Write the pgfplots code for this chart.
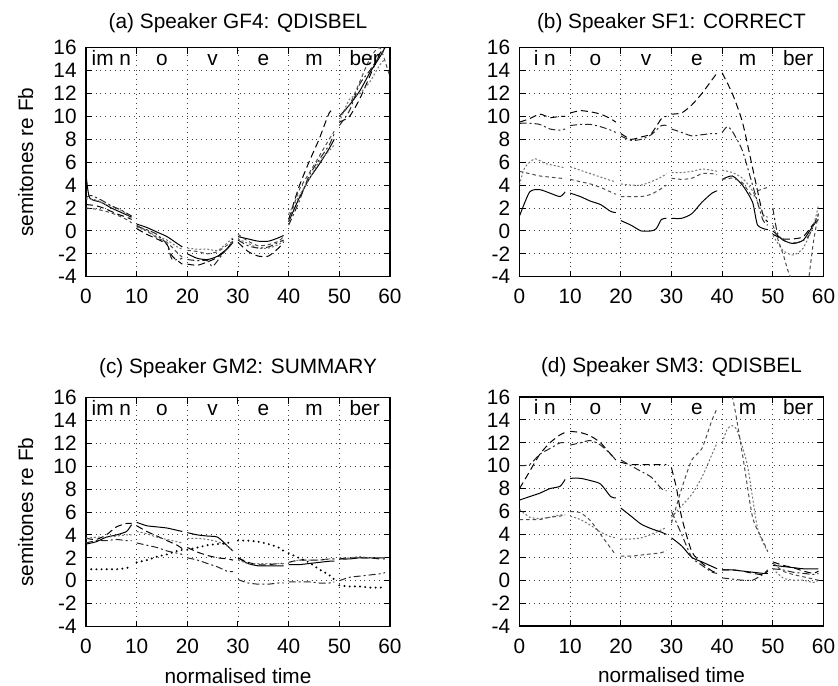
\documentclass[border=0pt]{standalone}
\usepackage{fontspec}
\setmainfont{Liberation Sans}
\usepackage{pgfplots}
\pgfplotsset{compat=1.18}
\newcommand{\fs}{\fontsize{10.4}{12}\selectfont}
\pgfplotsset{
 every axis title shift=0pt,
 panel/.style={
  scale only axis, width=152pt, height=114.5pt,
  xmin=0,xmax=60,ymin=-4,ymax=16,
  xtick={0,10,...,60}, ytick={-4,-2,...,16},
  grid=major, major grid style={dotted, black!75, line width=0.45pt},
  axis line style={line width=0.6pt},
  tick style={black, line width=0.5pt}, major tick length=3pt,
  tick align=inside,
  /pgf/number format/assume math mode=true,
  font=\fs,
  ticklabel style={font=\fs, inner sep=0pt},
  xticklabel style={anchor=base, yshift=-13.5pt},
  yticklabel style={anchor=east, xshift=-4.5pt},
  unbounded coords=jump,
  anchor=north west,
  title style={anchor=base, font=\fs},
  ylabel style={at={(axis description cs:-0.174,0.5)}, anchor=base, font=\fs},
  xlabel style={at={(axis description cs:0.5,-0.247)}, anchor=base, font=\fs},
 },
 sA/.style={black, line width=0.5pt, smooth, tension=0.4},
 sB/.style={black, line width=0.5pt, dash pattern=on 3.5pt off 2pt, smooth, tension=0.4},
 sC/.style={black!55, line width=0.5pt, dash pattern=on 1pt off 1pt, smooth, tension=0.4},
 sD/.style={black!85, line width=0.5pt, dash pattern=on 3.5pt off 1.5pt on 1pt off 1.5pt, smooth, tension=0.4},
 sE/.style={black!70, line width=0.5pt, dash pattern=on 1.8pt off 1.5pt, smooth, tension=0.4},
 sF/.style={black, line width=1.1pt, line cap=round, dash pattern=on 0pt off 2.6pt, smooth, tension=0.4},
}
\newcommand{\syl}[6]{%
 \node[anchor=base,font=\fs] at (axis cs:5,14.45) {#1};
 \node[anchor=base,font=\fs] at (axis cs:15,14.45) {#2};
 \node[anchor=base,font=\fs] at (axis cs:25,14.45) {#3};
 \node[anchor=base,font=\fs] at (axis cs:35,14.45) {#4};
 \node[anchor=base,font=\fs] at (axis cs:45,14.45) {#5};
 \node[anchor=base,font=\fs] at (axis cs:55,14.45) {#6};}
\begin{document}
\begin{tikzpicture}
\useasboundingbox (0,0) rectangle (419pt,-342.5pt);
% ---------------- (a)
\begin{axis}[panel, at={(43pt,-23.85pt)},
  title={(a) Speaker GF4: QDISBEL}, title style={at={(axis description cs:0.5,1.086)}},
  ylabel={semitones re Fb}]
\addplot[sA] coordinates {(0,5.0)(0.7,2.9)(3,2.5)(5,2.0)(7,1.6)(9,1.2)(9.5,nan)
(10,0.6)(12,0.3)(14,-0.1)(16,-0.5)(18,-1.1)(19,-1.4)(19.5,nan)
(20,-2.0)(22,-2.4)(24,-2.5)(26,-2.2)(28,-1.5)(29,-1.0)(29.5,nan)
(30,-0.5)(32,-0.7)(34,-0.9)(36,-0.9)(38,-0.6)(39,-0.4)(39.5,nan)
(40,0.8)(42,2.8)(44,4.5)(46,5.8)(48,7.2)(49,8.0)(49.5,nan)
(50,10.0)(52,11.0)(54,12.2)(56,13.8)(58,15.2)(59,16.0)};
\addplot[sB] coordinates {(0,2.3)(2,2.2)(4,1.9)(6,1.5)(8,1.2)(9,1.0)(9.5,nan)
(10,0.2)(12,-0.3)(14,-0.7)(16,-1.2)(17,-2.2)(19,-2.9)(19.5,nan)
(20,-2.9)(22,-3.0)(24,-2.7)(26,-2.3)(28,-1.5)(29,-0.7)(29.5,nan)
(30,-1.0)(32,-1.8)(34,-2.2)(36,-2.2)(38,-1.5)(39,-1.0)(39.5,nan)
(40,1.0)(42,3.8)(44,6.0)(46,8.0)(48,10.3)(49,10.6)(49.5,nan)
(50,9.5)(52,10.0)(54,11.5)(56,13.5)(58,15.5)(59,16.0)};
\addplot[sC] coordinates {(0,2.8)(2,2.7)(4,2.3)(6,2.0)(8,1.5)(9,1.0)(9.5,nan)
(10,0.3)(12,0.0)(14,-0.5)(16,-0.8)(18,-1.4)(19,-1.6)(19.5,nan)
(20,-1.5)(22,-1.6)(24,-1.6)(26,-1.7)(28,-1.0)(29,-0.6)(29.5,nan)
(30,-0.7)(32,-1.1)(34,-1.5)(36,-1.5)(38,-1.2)(39,-0.9)(39.5,nan)
(40,1.5)(42,3.0)(44,4.5)(46,6.0)(48,7.0)(49,7.5)(49.5,nan)
(50,9.5)(52,11.5)(54,12.0)(56,13.0)(58,14.5)(59,15.0)};
\addplot[sD] coordinates {(0,2.9)(1,3.1)(3,2.7)(5,2.2)(7,1.8)(9,1.3)(9.5,nan)
(10,0.4)(12,0.1)(14,-0.3)(16,-1.2)(17,-2.5)(19,-2.4)(19.5,nan)
(20,-2.5)(22,-2.6)(24,-2.6)(25,-3.1)(27,-2.0)(29,-1.0)(29.5,nan)
(30,-0.8)(32,-1.3)(34,-1.5)(36,-1.4)(38,-1.0)(39,-0.8)(39.5,nan)
(40,0.5)(42,2.5)(44,4.8)(46,6.2)(48,7.5)(49,8.5)(49.5,nan)
(50,9.2)(52,10.5)(54,12.8)(56,14.0)(58,15.3)(59,15.8)};
\addplot[sE] coordinates {(0,2.0)(2,1.9)(4,1.7)(6,1.4)(8,1.0)(9,0.7)(9.5,nan)
(10,0.5)(12,0.0)(14,-0.6)(16,-1.0)(18,-1.9)(19,-2.3)(19.5,nan)
(20,-1.7)(22,-1.8)(24,-2.0)(26,-1.8)(28,-1.2)(29,-0.9)(29.5,nan)
(30,-0.3)(32,-0.9)(34,-1.3)(36,-1.2)(38,-0.9)(39,-0.5)(39.5,nan)
(40,0.8)(42,3.5)(44,5.0)(46,6.5)(48,8.0)(49,8.7)(49.5,nan)
(50,10.0)(52,11.0)(54,13.0)(56,15.0)(58,16.0)(60,13.4)};
\syl{im n}{o}{v}{e}{m}{ber}
\end{axis}
% ---------------- (b)
\begin{axis}[panel, at={(259.75pt,-23.85pt)},
  title={(b) Speaker SF1: CORRECT}, title style={at={(axis description cs:0.5,1.086)}}]
\addplot[sA] coordinates {(0,1.3)(2,3.4)(4,3.6)(6,3.3)(8,3.0)(9,3.4)(9.5,nan)
(10,3.3)(12,3.0)(14,2.6)(16,2.3)(18,1.7)(19,1.6)(19.5,nan)
(20,0.9)(22,0.5)(24,0.0)(26,0.0)(27,0.2)(28,1.0)(29,1.1)(29.5,nan)
(30,1.1)(32,1.1)(34,1.5)(36,2.5)(38,3.3)(39,3.5)(39.5,nan)
(40,4.5)(42,4.8)(44,4.0)(46,2.5)(47,0.5)(49,0.1)(49.5,nan)
(50,0.0)(52,-0.8)(54,-1.1)(56,-0.8)(58,0.5)(59,1.0)};
\addplot[sB] coordinates {(0,9.5)(2,9.8)(4,10.2)(6,9.9)(8,10.0)(9,10.0)(9.5,nan)
(10,10.3)(12,10.5)(14,10.4)(16,10.2)(18,9.8)(19,9.5)(19.5,nan)
(20,8.5)(22,8.0)(24,8.2)(26,8.5)(28,9.8)(29,10.0)(29.5,nan)
(30,10.2)(32,10.3)(34,11.0)(36,12.0)(38,13.2)(39,13.8)(39.5,nan)
(40,13.8)(42,12.0)(44,9.5)(46,5.5)(48,1.5)(49,0.8)(49.5,nan)
(50,-0.3)(52,-0.7)(54,-0.7)(56,-0.5)(58,0.6)(59,1.0)};
\addplot[sD] coordinates {(0,9.4)(2,9.4)(4,9.3)(6,8.9)(8,8.8)(9,8.9)(9.5,nan)
(10,9.2)(12,9.3)(14,9.3)(16,9.1)(18,8.8)(19,8.6)(19.5,nan)
(20,8.3)(22,7.9)(24,8.0)(26,8.4)(28,9.2)(29,9.2)(29.5,nan)
(30,8.9)(32,8.6)(34,8.3)(36,8.4)(38,8.5)(39,8.5)(39.5,nan)
(40,8.6)(41,9.1)(42,8.7)(44,7.0)(46,4.0)(48,1.0)(49,0.5)(49.5,nan)
(50,2.0)(51,-0.3)(53,-1.0)(55,-1.0)(57,-0.5)(59,1.5)};
\addplot[sC] coordinates {(0,4.0)(1,5.5)(3,6.3)(5,5.9)(7,5.7)(9,5.5)(9.5,nan)
(10,5.6)(12,5.3)(14,5.0)(16,4.7)(18,4.4)(19,4.3)(19.5,nan)
(20,4.1)(22,4.0)(24,4.0)(26,4.3)(28,4.7)(29,5.0)(29.5,nan)
(30,5.1)(32,5.1)(34,5.2)(36,5.4)(38,5.3)(39,5.2)(39.5,nan)
(40,5.3)(42,5.1)(44,4.6)(46,3.5)(48,1.5)(49,1.2)(49.5,nan)
(50,-0.4)(52,-1.7)(54,-2.1)(56,-1.5)(58,0.5)(59,2.2)};
\addplot[sE] coordinates {(0,5.2)(2,5.0)(4,4.8)(6,4.7)(8,4.6)(9,4.6)(9.5,nan)
(10,4.5)(12,4.3)(14,4.1)(16,3.8)(18,3.4)(19,3.2)(19.5,nan)
(20,3.0)(22,3.0)(24,3.0)(26,3.2)(28,3.7)(29,4.0)(29.5,nan)
(30,4.6)(32,4.5)(34,4.6)(36,5.0)(38,5.0)(39,4.9)(39.5,nan)
(40,4.5)(42,4.6)(44,4.2)(46,3.0)(47,3.5)(49,3.8)(49.5,nan)
(50,0.5)(52,-2.0)(53,-3.5)(54,-4.5)(55.5,nan)
(57,-4.5)(58,-1.0)(59,1.5)};
\syl{i n}{o}{v}{e}{m}{ber}
\end{axis}
% ---------------- (c)
\begin{axis}[panel, at={(43pt,-198.75pt)},
  title={(c) Speaker GM2: SUMMARY}, title style={at={(axis description cs:0.5,1.106)}},
  ylabel={semitones re Fb}, xlabel={normalised time}]
\addplot[sA] coordinates {(0,3.2)(2,3.4)(4,3.8)(6,4.0)(8,4.3)(9,4.9)(9.5,nan)
(10,5.1)(12,4.8)(14,4.7)(16,4.6)(18,4.4)(19,4.3)(19.5,nan)
(20,4.2)(22,4.0)(24,3.9)(26,3.8)(28,3.0)(29,2.6)(29.5,nan)
(30,2.0)(32,1.5)(34,1.3)(36,1.3)(38,1.3)(39,1.3)(39.5,nan)
(40,1.4)(42,1.4)(44,1.5)(46,1.6)(48,1.7)(49,1.7)(49.5,nan)
(50,1.9)(52,1.9)(54,2.0)(56,2.0)(58,2.0)(59,2.0)};
\addplot[sB] coordinates {(0,3.7)(2,3.6)(4,4.0)(6,4.7)(8,5.0)(9,5.0)(9.5,nan)
(10,4.8)(12,4.3)(14,3.9)(16,3.5)(18,3.1)(19,2.8)(19.5,nan)
(20,2.9)(22,2.5)(24,2.2)(26,2.0)(28,1.9)(29,1.8)(29.5,nan)
(30,2.0)(32,1.6)(34,1.4)(36,1.4)(38,1.5)(39,1.5)(39.5,nan)
(40,1.6)(42,1.8)(44,1.8)(46,1.8)(48,1.9)(49,1.9)(49.5,nan)
(50,1.9)(52,2.0)(54,2.0)(56,2.0)(58,1.9)(59,1.9)};
\addplot[sD] coordinates {(0,3.3)(2,3.5)(4,3.5)(6,3.6)(8,3.5)(9,3.5)(9.5,nan)
(10,3.3)(12,3.1)(14,2.9)(16,2.6)(18,2.4)(19,2.3)(19.5,nan)
(20,2.0)(22,1.8)(24,1.5)(26,1.2)(28,0.8)(29,0.8)(29.5,nan)
(30,0.1)(32,-0.2)(34,-0.3)(36,-0.3)(38,-0.2)(39,-0.2)(39.5,nan)
(40,-0.1)(42,-0.1)(44,-0.1)(46,-0.2)(48,-0.2)(49,-0.1)(49.5,nan)
(50,0.0)(52,0.3)(54,0.4)(56,0.5)(58,0.6)(59,0.7)};
\addplot[sC] coordinates {(0,3.7)(2,3.8)(4,3.8)(6,3.9)(8,4.0)(9,4.0)(9.5,nan)
(10,4.3)(12,4.1)(14,3.8)(16,3.6)(18,3.4)(19,3.3)(19.5,nan)
(20,3.7)(22,3.7)(24,3.6)(26,3.4)(28,3.0)(29,2.6)(29.5,nan)
(30,1.8)(32,1.5)(34,1.5)(36,1.5)(38,1.5)(39,1.5)(39.5,nan)
(40,1.6)(42,1.8)(44,1.8)(46,1.8)(48,1.9)(49,1.9)(49.5,nan)
(50,2.0)(52,2.0)(54,2.1)(56,2.0)(58,2.0)(59,2.0)};
\addplot[sF] coordinates {(0,1.0)(2,1.0)(4,1.0)(6,1.0)(8,1.1)(9,1.3)(9.5,nan)
(10,1.6)(12,1.8)(14,2.1)(16,2.3)(18,2.6)(19,2.7)(19.5,nan)
(20,2.7)(22,2.9)(24,3.1)(26,3.2)(28,3.3)(29,3.4)(29.5,nan)
(30,3.5)(32,3.5)(34,3.4)(36,3.2)(38,2.9)(39,2.6)(39.5,nan)
(40,2.4)(42,2.0)(44,1.6)(46,1.0)(48,0.5)(49,0.1)(49.5,nan)
(50,-0.4)(52,-0.5)(54,-0.5)(56,-0.6)(58,-0.6)(59,-0.6)};
\syl{im n}{o}{v}{e}{m}{ber}
\end{axis}
% ---------------- (d)
\begin{axis}[panel, at={(259.75pt,-198.5pt)},
  title={(d) Speaker SM3: QDISBEL}, title style={at={(axis description cs:0.5,1.106)}},
  xlabel={normalised time}]
\addplot[sA] coordinates {(0,7.0)(2,7.3)(4,7.6)(6,8.0)(8,8.2)(9,8.8)(9.5,nan)
(10,8.9)(12,8.9)(14,8.7)(16,8.4)(18,7.3)(19,7.2)(19.5,nan)
(20,6.3)(22,5.6)(24,4.9)(26,4.5)(28,4.2)(29,4.0)(29.5,nan)
(30,3.7)(32,3.0)(34,2.0)(36,1.6)(38,1.2)(39,1.0)(39.5,nan)
(40,0.9)(42,0.9)(44,0.8)(46,0.7)(48,0.6)(49,0.6)(49.5,nan)
(50,1.3)(52,1.2)(54,1.1)(56,1.0)(58,1.0)(59,1.0)};
\addplot[sB] coordinates {(0,8.0)(2,9.5)(4,11.0)(6,12.0)(8,12.7)(9,12.9)(9.5,nan)
(10,13.0)(12,12.9)(14,12.6)(16,12.0)(18,11.0)(19,10.5)(19.5,nan)
(20,10.3)(22,10.1)(24,10.1)(26,10.1)(28,10.1)(29,10.1)(29.5,nan)
(30,9.8)(31,8.0)(32,5.5)(34,2.5)(36,1.5)(38,0.8)(39,0.7)(39.5,nan)
(40,0.9)(42,0.9)(44,0.8)(46,0.6)(48,0.5)(49,0.8)(49.5,nan)
(50,1.6)(52,1.3)(54,1.1)(56,0.8)(58,0.6)(59,0.8)};
\addplot[sD] coordinates {(0,10.0)(2,10.1)(4,11.0)(6,11.5)(8,12.0)(9,12.0)(9.5,nan)
(10,11.8)(12,12.0)(14,12.2)(16,11.8)(18,11.0)(19,10.5)(19.5,nan)
(20,10.5)(22,10.0)(24,9.5)(26,9.0)(28,8.0)(29,7.8)(29.5,nan)
(30,6.0)(32,4.0)(34,2.0)(36,1.3)(38,0.7)(39,0.6)(39.5,nan)
(40,0.2)(42,0.1)(44,0.0)(46,0.0)(48,0.5)(49,0.9)(49.5,nan)
(50,1.0)(52,0.9)(54,0.7)(56,0.6)(58,0.5)(59,0.6)};
\addplot[sC] coordinates {(0,6.2)(2,5.5)(4,5.4)(6,5.5)(8,5.7)(9,5.7)(9.5,nan)
(10,5.6)(12,5.3)(14,4.8)(16,4.2)(18,3.8)(19,3.7)(19.5,nan)
(20,3.6)(22,3.6)(24,3.7)(26,4.0)(28,4.4)(29,4.6)(29.5,nan)
(30,5.5)(32,6.5)(34,7.5)(36,9.0)(38,11.0)(39,12.0)(39.5,nan)
(40,12.0)(41,13.2)(42,13.5)(43,13.0)(45,10.0)(47,4.5)(49,2.5)(49.5,nan)
(50,1.0)(52,0.2)(54,0.0)(56,0.0)(58,-0.2)(59,0.0)};
\addplot[sE] coordinates {(0,5.3)(2,5.3)(4,5.3)(6,5.5)(8,5.6)(9,5.7)(9.5,nan)
(10,6.0)(12,5.9)(14,5.2)(16,4.0)(18,2.8)(19,2.2)(19.5,nan)
(20,2.1)(22,2.1)(24,2.2)(26,2.3)(28,2.4)(29,2.6)(29.5,nan)
(30,5.0)(32,8.0)(34,10.5)(36,11.5)(38,14.0)(39,15.0)(39.5,nan)
(40,16.8)(42,16.0)(44,11.0)(46,5.5)(48,3.5)(49,2.5)(49.5,nan)
(50,1.5)(52,0.8)(54,0.5)(56,0.3)(58,0.1)(59,0.0)};
\syl{i n}{o}{v}{e}{m}{ber}
\end{axis}
\end{tikzpicture}
\end{document}
